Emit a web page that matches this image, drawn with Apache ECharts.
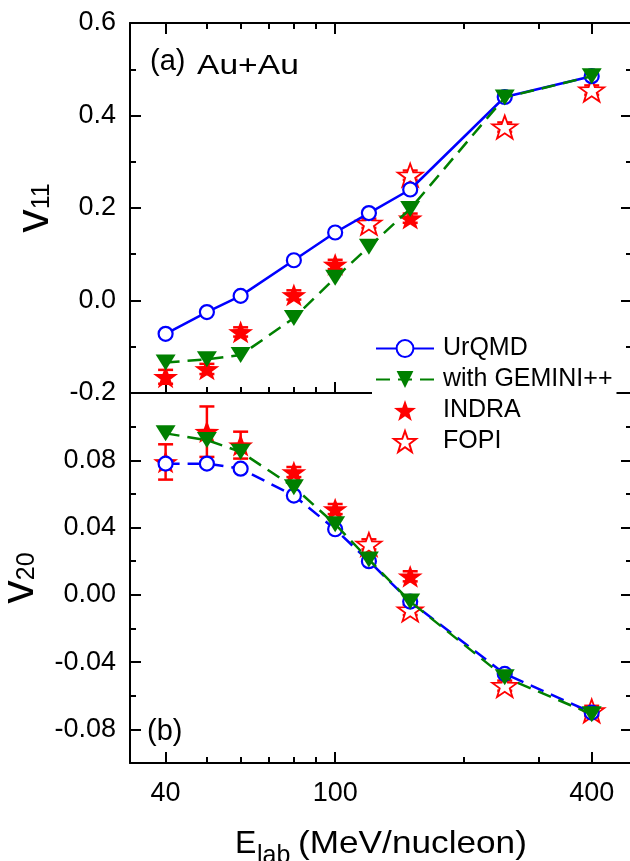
<!DOCTYPE html>
<html>
<head>
<meta charset="utf-8">
<script src="https://cdn.jsdelivr.net/npm/echarts@6/dist/echarts.min.js"></script>
<style>
html,body{margin:0;padding:0;background:#fff;}
#chart{width:630px;height:861px;}
</style>
</head>
<body>
<div id="chart"></div>
<script>
// ---------- data ----------
const energies   = [40, 50, 60, 80, 100, 120, 150, 250, 400];
const urqmdV11   = [-0.072, -0.025, 0.010, 0.087, 0.147, 0.189, 0.240, 0.440, 0.485];
const geminiV11  = [-0.134, -0.127, -0.118, -0.038, 0.049, 0.116, 0.198, 0.439, 0.485];
const urqmdV20   = [0.078, 0.078, 0.075, 0.059, 0.039, 0.020, -0.004, -0.047, -0.070];
const geminiV20  = [0.096, 0.092, 0.085, 0.064, 0.042, 0.021, -0.004, -0.049, -0.071];

const indraE     = [40, 50, 60, 80, 100, 150];
const indraV11   = [-0.165, -0.148, -0.068, 0.012, 0.078, 0.178];
const indraV11Err= [0.015, 0.011, 0.010, 0.010, 0.010, 0.010];
const indraV20   = [0.079, 0.097, 0.089, 0.073, 0.051, 0.011];
const indraV20Err= [0.0105, 0.015, 0.008, 0.003, 0.003, 0.003];

const fopiE      = [120, 150, 250, 400];
const fopiV11    = [0.167, 0.271, 0.375, 0.455];
const fopiV11Err = [0.010, 0.010, 0.010, 0.010];
const fopiV20    = [0.030, -0.009, -0.054, -0.069];
const fopiV20Err = [0.003, 0.003, 0.003, 0.003];

const xMajor = [40, 100, 400];
const xMinor = [50, 60, 70, 80, 90, 200, 300];
const y1Major = [-0.2, 0.0, 0.2, 0.4, 0.6];
const y1Minor = [-0.1, 0.1, 0.3, 0.5];
const y2Major = [-0.08, -0.04, 0.00, 0.04, 0.08];
const y2Minor = [-0.06, -0.02, 0.02, 0.06, 0.10];

// ---------- styles ----------
const FONT = "'Liberation Sans', Arial, sans-serif";
const BLUE = '#0000ff', GREEN = '#008000', RED = '#ff0000';
const STAR = 'path://M0,-10 L2.35,-3.24 L9.51,-3.09 L3.8,1.24 L5.88,8.09 L0,4 L-5.88,8.09 L-3.8,1.24 L-9.51,-3.09 L-2.35,-3.24 Z';
const MAJ = 11, MIN = 6;
const X_MIN = 33, X_MAX = 500;

function xAx(grid, pos, vals, len, line, labels) {
  return {
    type: 'log', logBase: 10, gridIndex: grid, position: pos, min: X_MIN, max: X_MAX,
    axisLine: {show: line, onZero: false, lineStyle: {color: '#000', width: 2}},
    axisTick: {show: true, inside: true, length: len, customValues: vals, lineStyle: {color: '#000', width: 2}},
    axisLabel: {show: labels, customValues: vals, color: '#000', fontSize: 27, fontFamily: FONT, margin: 17},
    splitLine: {show: false}, minorTick: {show: false}, minorSplitLine: {show: false}
  };
}
function yAx(grid, pos, min, max, vals, len, line, labels, dec, title) {
  const ax = {
    type: 'value', gridIndex: grid, position: pos, min: min, max: max,
    axisLine: {show: line, onZero: false, lineStyle: {color: '#000', width: 2}},
    axisTick: {show: true, inside: true, length: len, customValues: vals, lineStyle: {color: '#000', width: 2}},
    axisLabel: {show: labels, customValues: vals, color: '#000', fontSize: 27, fontFamily: FONT, margin: 14,
      padding: [7, 0, 0, 0], formatter: v => v.toFixed(dec)},
    splitLine: {show: false}, minorTick: {show: false}, minorSplitLine: {show: false}
  };
  if (title) {
    ax.name = '{v|v}{s|' + title.sub + '}';
    ax.nameLocation = 'middle';
    ax.nameRotate = 90;
    ax.nameGap = title.gap;
    ax.nameTextStyle = {
      fontFamily: FONT, color: '#000',
      rich: {
        v: {fontSize: 47, fontFamily: FONT, color: '#000', verticalAlign: 'bottom', lineHeight: 47},
        s: {fontSize: 25, fontFamily: FONT, color: '#000', verticalAlign: 'bottom', lineHeight: 25, padding: [0, 0, 4, 0]}
      }
    };
  }
  return ax;
}

function zip(xs, ys) { return xs.map((x, i) => [x, ys[i]]); }
function zip3(xs, ys, es) { return xs.map((x, i) => [x, ys[i], es[i]]); }

function errRender(params, api) {
  const x = api.value(0), y = api.value(1), e = api.value(2);
  const t = api.coord([x, y + e]), b = api.coord([x, y - e]);
  const cw = 7.5, st = {stroke: RED, lineWidth: 2.5};
  return {type: 'group', children: [
    {type: 'line', shape: {x1: t[0], y1: t[1], x2: b[0], y2: b[1]}, style: st},
    {type: 'line', shape: {x1: t[0] - cw, y1: t[1], x2: t[0] + cw, y2: t[1]}, style: st},
    {type: 'line', shape: {x1: b[0] - cw, y1: b[1], x2: b[0] + cw, y2: b[1]}, style: st}
  ]};
}

function panelSeries(g, uq, gm, ind, indErr, fo, foErr, uqDashed) {
  const xi = g === 0 ? 0 : 4, yi = g === 0 ? 0 : 4;
  return [
    {type: 'custom', name: 'errI' + g, xAxisIndex: xi, yAxisIndex: yi, renderItem: errRender,
     encode: {x: 0, y: 1}, data: zip3(indraE, ind, indErr), z: 2, silent: true},
    {type: 'custom', name: 'errF' + g, xAxisIndex: xi, yAxisIndex: yi, renderItem: errRender,
     encode: {x: 0, y: 1}, data: zip3(fopiE, fo, foErr), z: 2, silent: true},
    {type: 'scatter', name: 'INDRA', xAxisIndex: xi, yAxisIndex: yi, symbol: STAR, symbolSize: [25, 24],
     symbolKeepAspect: true, itemStyle: {color: RED, opacity: 1}, data: zip(indraE, ind), z: 3},
    {type: 'scatter', name: 'FOPI', xAxisIndex: xi, yAxisIndex: yi, symbol: STAR, symbolSize: [25, 24],
     symbolKeepAspect: true, itemStyle: {color: '#fff', borderColor: RED, borderWidth: 1.8, opacity: 1},
     data: zip(fopiE, fo), z: 3},
    {type: 'line', name: 'UrQMD', xAxisIndex: xi, yAxisIndex: yi, symbol: 'circle', symbolSize: 14,
     showAllSymbol: true, itemStyle: {color: '#fff', borderColor: BLUE, borderWidth: 2.2},
     lineStyle: {color: BLUE, width: 2.5, type: uqDashed ? [14, 8] : 'solid'},
     data: zip(energies, uq), z: 4},
    {type: 'line', name: 'with GEMINI++', xAxisIndex: xi, yAxisIndex: yi, symbol: 'triangle',
     symbolSize: [20, 16], symbolRotate: 180, showAllSymbol: true,
     itemStyle: {color: GREEN, borderWidth: 0},
     lineStyle: {color: GREEN, width: 2.5, type: [14, 8]},
     data: zip(energies, gm), z: 5}
  ];
}

const chart = echarts.init(document.getElementById('chart'), null, {renderer: 'canvas'});
const option = {
  animation: false,
  backgroundColor: '#fff',
  textStyle: {fontFamily: FONT},
  grid: [
    {left: 130, top: 23, width: 503, height: 370, containLabel: false, outerBoundsMode: 'none'},
    {left: 130, top: 393, width: 503, height: 370, containLabel: false, outerBoundsMode: 'none'}
  ],
  xAxis: [
    xAx(0, 'bottom', xMajor, MAJ, true, false),
    xAx(0, 'bottom', xMinor, MIN, false, false),
    xAx(0, 'top', xMajor, MAJ, true, false),
    xAx(0, 'top', xMinor, MIN, false, false),
    xAx(1, 'bottom', xMajor, MAJ, true, true),
    xAx(1, 'bottom', xMinor, MIN, false, false)
  ],
  yAxis: [
    yAx(0, 'left', -0.2, 0.6, y1Major, MAJ, true, true, 1, {sub: '11', gap: 68}),
    yAx(0, 'left', -0.2, 0.6, y1Minor, MIN, false, false, 1),
    yAx(0, 'right', -0.2, 0.6, y1Major, 12, true, false, 1),
    yAx(0, 'right', -0.2, 0.6, y1Minor, 7, false, false, 1),
    yAx(1, 'left', -0.1, 0.12, y2Major, MAJ, true, true, 2, {sub: '20', gap: 84}),
    yAx(1, 'left', -0.1, 0.12, y2Minor, MIN, false, false, 2),
    yAx(1, 'right', -0.1, 0.12, y2Major, 12, true, false, 2),
    yAx(1, 'right', -0.1, 0.12, y2Minor, 7, false, false, 2)
  ],
  legend: {
    data: ['UrQMD', 'with GEMINI++', 'INDRA', 'FOPI'],
    orient: 'vertical', left: 372, top: 331,
    itemWidth: 58, itemHeight: 21, itemGap: 6,
    padding: [5, 4, 5, 3],
    backgroundColor: '#fff', z: 10,
    selectedMode: false,
    textStyle: {fontSize: 25, fontFamily: FONT, color: '#000', padding: [0, 0, 0, 4]}
  },
  series: [].concat(
    panelSeries(0, urqmdV11, geminiV11, indraV11, indraV11Err, fopiV11, fopiV11Err, false),
    panelSeries(1, urqmdV20, geminiV20, indraV20, indraV20Err, fopiV20, fopiV20Err, true)
  ),
  graphic: [
    {type: 'text', left: 150, top: 47, z: 20, style: {text: '(a)', font: '29px ' + FONT, fill: '#000'}},
    {type: 'text', x: 197, y: 52, scaleX: 1.2, z: 20, style: {text: 'Au+Au', font: '28px ' + FONT, fill: '#000', verticalAlign: 'top'}},
    {type: 'text', left: 147, top: 717, z: 20, style: {text: '(b)', font: '29px ' + FONT, fill: '#000'}},
    // x title
    {type: 'text', x: 235, y: 828, z: 20,
     style: {text: 'E', font: '32px ' + FONT, fill: '#000', align: 'left', verticalAlign: 'top'}},
    {type: 'text', x: 257, y: 844, z: 20,
     style: {text: 'lab', font: '25px ' + FONT, fill: '#000', align: 'left', verticalAlign: 'top'}},
    {type: 'text', x: 298, y: 828, scaleX: 1.1, z: 20,
     style: {text: '(MeV/nucleon)', font: '32px ' + FONT, fill: '#000', align: 'left', verticalAlign: 'top'}}
  ]
};
chart.setOption(option);
</script>
</body>
</html>
